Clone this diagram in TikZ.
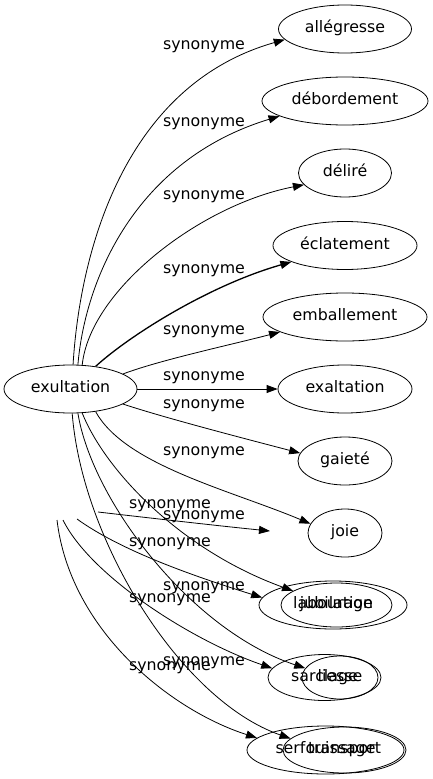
\documentclass[tikz,border=0pt]{standalone}
\usepackage{fontspec}
\setmainfont{DejaVu Sans}
\usetikzlibrary{arrows.meta,shapes.geometric}
\begin{document}
\begin{tikzpicture}[x=1pt,y=-1pt,
  font=\fontsize{15.8}{19}\selectfont,
  word/.style={draw, ellipse, inner sep=0pt, text height=0.76em, text depth=0pt, line width=0.8pt, minimum height=48pt},
  lbl/.style={inner sep=0pt},
  syn/.style={draw, line width=0.8pt, -{Triangle[length=11pt,width=8pt]}},
]
\useasboundingbox (0,0) rectangle (433,779);

% nodes of the main graph
\node[word, minimum width=133pt] (exu) at (70.5,389) {exultation};
\node[word, minimum width=133pt] (al)  at (345,29)  {allégresse};
\node[word, minimum width=166pt] (deb) at (345,101) {débordement};
\node[word, minimum width=93pt]  (del) at (345,173) {déliré};
\node[word, minimum width=144pt] (ecl) at (345,245.5) {éclatement};
\node[word, minimum width=164pt] (emb) at (345,317) {emballement};
\node[word, minimum width=134pt] (exa) at (345,389) {exaltation};
\node[word, minimum width=94pt]  (gai) at (345,461) {gaieté};
\node[word, minimum width=74pt]  (joi) at (345,533) {joie};
\node[word, minimum width=111pt, minimum height=44pt] (jub) at (336.5,605) {jubilation};
\node[word, minimum width=76pt, minimum height=43pt]  (lie) at (340,677.5) {liesse};
\node[word, minimum width=123pt, minimum height=46pt] (tra) at (344.5,750) {transport};

% overlaid nodes
\node[word, minimum width=148pt] (lab) at (333,605) {labourage};
\node[word, minimum width=113pt, minimum height=46pt] (sar) at (324.5,677.5) {sarclage};
\node[word, minimum width=157pt] (ser) at (325.5,750) {serfouissage};

% free ends of the overlaid edges
\coordinate (h1) at (98,512);
\coordinate (h2) at (77,519);
\coordinate (h3) at (63,520);
\coordinate (h4) at (57,520);
\coordinate (hx) at (270,531);

% edges of the main graph
\draw[syn] (exu.84)  .. controls (80,250) and (125,85) .. (al.190);
\draw[syn] (exu.73)  .. controls (85,280) and (135,160) .. (deb.193);
\draw[syn] (exu.64)  .. controls (90,290) and (200,205) .. (del.196);
\draw[syn, line width=1.3pt] (exu.42) .. controls (130,335) and (210,285) .. (ecl.197);
\draw[syn] (exu.16)  .. controls (160,360) and (230,345) .. (emb.193);
\draw[syn] (exu) -- (exa);
\draw[syn] (exu.-16) .. controls (165,418) and (250,440) .. (gai.170);
\draw[syn] (exu.-42) .. controls (125,465) and (230,490) .. (joi.165);
\draw[syn] (exu.-64) .. controls (105,470) and (180,550) .. (jub.162);
\draw[syn] (exu.-73) .. controls (92,500) and (190,630) .. (lie.165);
\draw[syn] (exu.-86) .. controls (82,540) and (180,700) .. (tra.168);

% edges of the overlaid graph
\draw[syn] (h1) .. controls (150,518) and (220,526) .. (hx);
\draw[syn] (h2) .. controls (120,550) and (190,575) .. (lab.174);
\draw[syn] (h3) .. controls (90,575) and (190,640) .. (sar.170);
\draw[syn] (h4) .. controls (70,630) and (170,710) .. (ser.170);

% labels
\node[lbl] (l1)  at (204,46.5) {synonyme};
\node[lbl] (l2)  at (204,124)  {synonyme};
\node[lbl] (l3)  at (204,197)  {synonyme};
\node[lbl] (l4)  at (204,271)  {synonyme};
\node[lbl] (l5)  at (204,332)  {synonyme};
\node[lbl] (l6)  at (204,378)  {synonyme};
\node[lbl] (l7)  at (204,406)  {synonyme};
\node[lbl] (l8)  at (204,453)  {synonyme};
\node[lbl] (l9)  at (204,517)  {synonyme};
\node[lbl] (l10) at (204,588)  {synonyme};
\node[lbl] (l11) at (204,663)  {synonyme};
\node[lbl] (m1)  at (170,506)  {synonyme};
\node[lbl] (m2)  at (170,544)  {synonyme};
\node[lbl] (m3)  at (170,600)  {synonyme};
\node[lbl] (m4)  at (170,668)  {synonyme};
\end{tikzpicture}
\end{document}
